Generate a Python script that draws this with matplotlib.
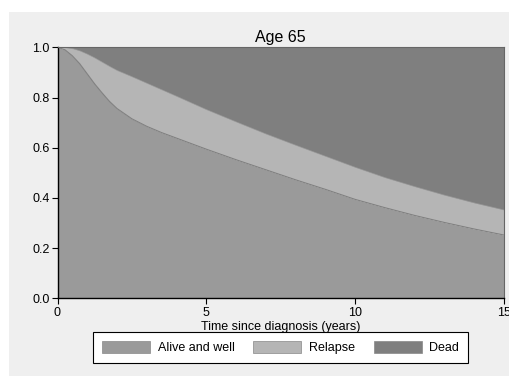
import numpy as np
import matplotlib
matplotlib.use("Agg")
import matplotlib.pyplot as plt
from matplotlib.patches import Rectangle

plt.rcParams['font.family'] = ['Liberation Sans', 'DejaVu Sans']

# years since diagnosis
years = [0, 0.25, 0.5, 0.75, 1, 1.25, 1.5, 1.75, 2, 2.5, 3, 3.5, 4, 5, 6, 7, 8, 9, 10, 11, 12, 13, 14, 15]
# probability alive and well
alive = [1.0, 0.990, 0.966, 0.934, 0.894, 0.854, 0.818, 0.784, 0.756, 0.715, 0.685, 0.660, 0.638,
         0.594, 0.552, 0.512, 0.472, 0.434, 0.394, 0.361, 0.330, 0.302, 0.276, 0.252]
# probability alive (well + relapse)
alive_total = [1.0, 0.999, 0.995, 0.986, 0.973, 0.958, 0.941, 0.924, 0.908, 0.883, 0.857, 0.831, 0.805,
               0.752, 0.703, 0.655, 0.610, 0.566, 0.522, 0.481, 0.445, 0.411, 0.380, 0.352]
labels = ['Alive and well', 'Relapse', 'Dead']
colors = ['#9a9a9a', '#b5b5b5', '#7f7f7f']

fig = plt.figure(figsize=(5.09, 3.77), dpi=100)
fig.patch.set_facecolor('white')
# grey backdrop
fig.patches.append(Rectangle((9 / 509, 1 / 377), 500 / 509, 364 / 377, transform=fig.transFigure,
                             facecolor='#efefef', edgecolor='none', zorder=-10))

ax = fig.add_axes([57.5 / 509, 1 - 298.3 / 377, 446.5 / 509, 251 / 377])
ax.set_zorder(1)
t = np.array(years)
a = np.array(alive)
tot = np.array(alive_total)
ax.fill_between(t, 0, a, color=colors[0], linewidth=0)
ax.fill_between(t, a, tot, color=colors[1], linewidth=0)
ax.fill_between(t, tot, 1, color=colors[2], linewidth=0)
ax.plot(t, a, color='#808080', linewidth=0.8)
ax.plot(t, tot, color='#9a9a9a', linewidth=0.5)

ax.set_xlim(0, 15)
ax.set_ylim(0, 1)
ax.set_xticks([0, 5, 10, 15])
ax.set_yticks([0, 0.2, 0.4, 0.6, 0.8, 1.0])
ax.set_yticklabels(['0.0', '0.2', '0.4', '0.6', '0.8', '1.0'])
ax.tick_params(direction='out', length=4, width=0.8, labelsize=9, pad=1.5, colors='black')
ax.tick_params(axis='x', pad=2.5)
for s in ['top', 'right']:
    ax.spines[s].set_color('#666666')
    ax.spines[s].set_linewidth(0.8)
for s in ['left', 'bottom']:
    ax.spines[s].set_color('black')
    ax.spines[s].set_linewidth(1.0)

ax.set_title('Age 65', fontsize=11.5, pad=4)
ax.set_xlabel('Time since diagnosis (years)', fontsize=9, labelpad=1)

handles = [Rectangle((0, 0), 1, 1, facecolor=c, edgecolor='#888888', linewidth=0.5) for c in colors]
leg = fig.legend(handles, labels, loc='center', bbox_to_anchor=(280.5 / 509, 1 - 347.5 / 377),
                 ncol=3, fontsize=9, handlelength=3.85, handleheight=1.05, handletextpad=0.6,
                 columnspacing=1.5, fancybox=False, framealpha=1, borderpad=0.75)
leg.get_frame().set_edgecolor('black')
leg.get_frame().set_linewidth(0.8)

plt.savefig('out.png', dpi=100)
